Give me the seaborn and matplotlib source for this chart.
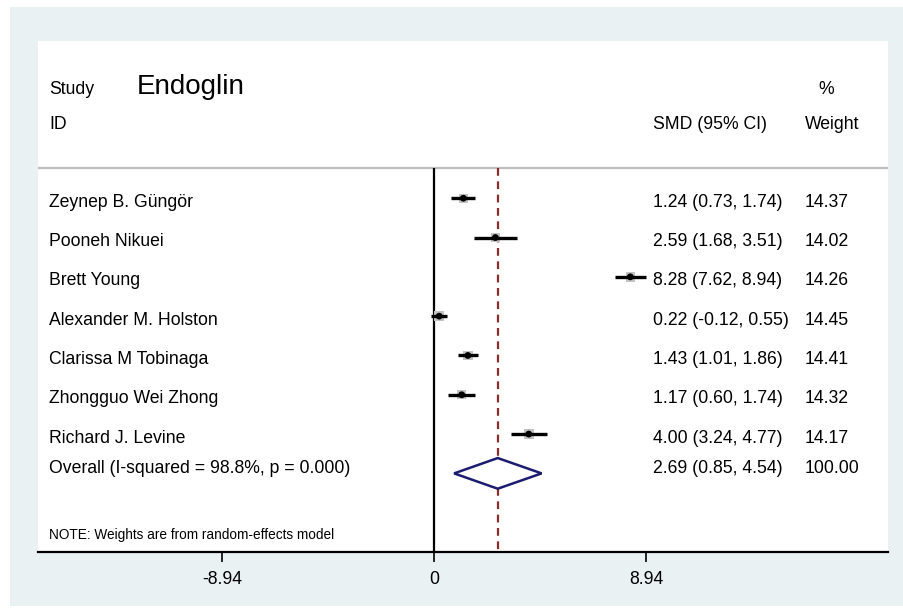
import numpy as np
import pandas as pd
import matplotlib
matplotlib.use('Agg')
import matplotlib.pyplot as plt
import matplotlib.transforms as mtransforms
from matplotlib.patches import Polygon, Rectangle
import seaborn as sns

# >> Study-level results (SMD with 95% CI, % weight)
studies = ['Zeynep B. Güngör', 'Pooneh Nikuei', 'Brett Young', 'Alexander M. Holston',
           'Clarissa M Tobinaga', 'Zhongguo Wei Zhong', 'Richard J. Levine']
smd = [1.24, 2.59, 8.28, 0.22, 1.43, 1.17, 4.00]
ci_low = [0.73, 1.68, 7.62, -0.12, 1.01, 0.60, 3.24]
ci_high = [1.74, 3.51, 8.94, 0.55, 1.86, 1.74, 4.77]
weight = [14.37, 14.02, 14.26, 14.45, 14.41, 14.32, 14.17]

# pooled estimate
overall_label = 'Overall (I-squared = 98.8%, p = 0.000)'
overall_smd = 2.69
overall_low = 0.85
overall_high = 4.54
overall_weight = 100.00

tick_vals = [-8.94, 0, 8.94]
tick_labels = ['-8.94', '0', '8.94']

df = pd.DataFrame({'study': studies, 'smd': smd, 'lo': ci_low, 'hi': ci_high, 'w': weight})
df['row'] = np.arange(len(df))
overall_row = len(df)

sns.set_style('white')
plt.rcParams['font.family'] = ['Liberation Sans', 'DejaVu Sans']
plt.rcParams['text.color'] = 'black'
plt.rcParams['xtick.color'] = 'black'
plt.rcParams['xtick.labelcolor'] = 'black'

fig = plt.figure(figsize=(9.04, 6.11), dpi=100)
fig.patch.set_facecolor('white')
# outer light graph region
bg = Rectangle((10 / 904, 1 - 606 / 611), 894 / 904, 599 / 611,
               transform=fig.transFigure, facecolor='#eaf1f3', edgecolor='none')
bg.set_zorder(-10)
fig.add_artist(bg)

ax = fig.add_axes([38 / 904, 1 - 552 / 611, 850 / 904, 511 / 611])
ax.set_zorder(1)
ax.set_facecolor('white')
ax.set_xlim(-16.70, 19.15)
ax.set_ylim(9.0, -4.0)

sep_y = -0.76

# null line and overall dashed line
ax.vlines(0, sep_y, 9.0, color='black', lw=1.6, zorder=2)
ax.vlines(overall_smd, sep_y, 9.0, color='#8b2b2b', lw=1.6, linestyles=(0, (3.5, 2.5)), zorder=2)

# separator
ax.axhline(sep_y, color='#bebebe', lw=1.6, zorder=1)

# weight boxes, confidence intervals and point estimates
sns.scatterplot(data=df, x='smd', y='row', marker='s', s=46, color='#c2c2c2',
                edgecolor='none', ax=ax, zorder=2.5, legend=False)
ax.hlines(df['row'], df['lo'], df['hi'], color='black', lw=2.4, zorder=3)
sns.scatterplot(data=df, x='smd', y='row', marker='o', s=24, color='black',
                edgecolor='none', ax=ax, zorder=4, legend=False)

# overall diamond
dh = 0.39
diamond = Polygon([(overall_low, overall_row), (overall_smd, overall_row - dh),
                   (overall_high, overall_row), (overall_smd, overall_row + dh)],
                  closed=True, facecolor='white', edgecolor='#1b1b70', lw=1.8, zorder=5)
ax.add_patch(diamond)

# text columns
tr = mtransforms.blended_transform_factory(ax.transAxes, ax.transData)
fs = 12.7
x_id = 0.013
x_ci = 0.7235
x_w = 0.902

ax.text(x_id, -2.77, 'Study', transform=tr, fontsize=fs, va='center')
ax.text(0.1165, -2.82, 'Endoglin', transform=tr, fontsize=20, va='center')
ax.text(0.918, -2.77, '%', transform=tr, fontsize=fs, va='center')
ax.text(x_id, -1.88, 'ID', transform=tr, fontsize=fs, va='center')
ax.text(x_ci, -1.88, 'SMD (95% CI)', transform=tr, fontsize=fs, va='center')
ax.text(x_w, -1.88, 'Weight', transform=tr, fontsize=fs, va='center')

for _, r in df.iterrows():
    ax.text(x_id, r['row'] + 0.1, r['study'], transform=tr, fontsize=fs, va='center')
    ax.text(x_ci, r['row'] + 0.1, f"{r['smd']:.2f} ({r['lo']:.2f}, {r['hi']:.2f})",
            transform=tr, fontsize=fs, va='center')
    ax.text(x_w, r['row'] + 0.1, f"{r['w']:.2f}", transform=tr, fontsize=fs, va='center')

ax.text(x_id, overall_row - 0.13, overall_label, transform=tr, fontsize=fs, va='center')
ax.text(x_ci, overall_row - 0.13,
        f"{overall_smd:.2f} ({overall_low:.2f}, {overall_high:.2f})",
        transform=tr, fontsize=fs, va='center')
ax.text(x_w, overall_row - 0.13, f"{overall_weight:.2f}", transform=tr, fontsize=fs, va='center')

ax.text(x_id, 8.58, 'NOTE: Weights are from random-effects model', transform=tr,
        fontsize=9.8, va='center')

# axis
for side in ['top', 'left', 'right']:
    ax.spines[side].set_visible(False)
ax.spines['bottom'].set_color('black')
ax.spines['bottom'].set_linewidth(1.6)
ax.set_xticks(tick_vals)
ax.set_xticklabels(tick_labels, fontsize=fs)
ax.tick_params(axis='x', direction='out', length=7, width=1.2, color='black', pad=7,
               bottom=True)
ax.set_yticks([])
ax.set_xlabel('')
ax.set_ylabel('')

fig.savefig('out.png', dpi=100, facecolor=fig.get_facecolor())
